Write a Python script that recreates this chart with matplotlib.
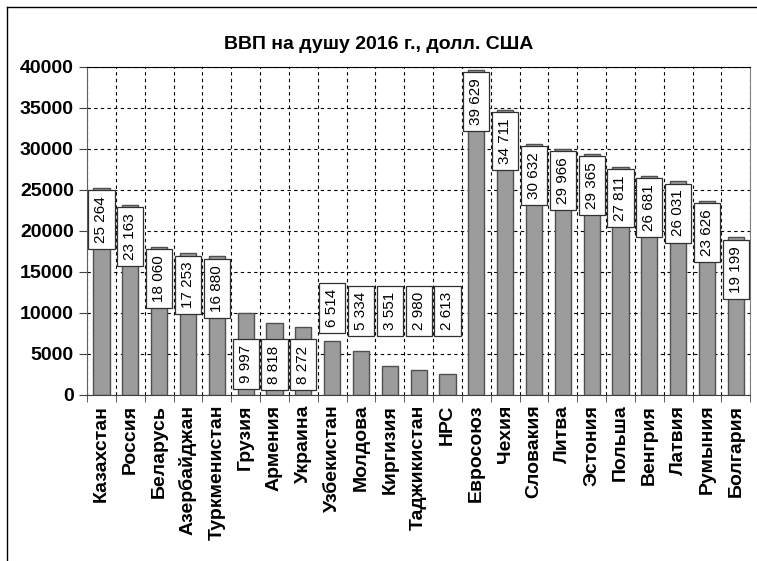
import matplotlib.pyplot as plt
from matplotlib.lines import Line2D
import numpy as np

countries = ["Казахстан", "Россия", "Беларусь", "Азербайджан", "Туркменистан",
             "Грузия", "Армения", "Украина", "Узбекистан", "Молдова", "Киргизия",
             "Таджикистан", "НРС", "Евросоюз", "Чехия", "Словакия", "Литва",
             "Эстония", "Польша", "Венгрия", "Латвия", "Румыния", "Болгария"]
gdp = [25264, 23163, 18060, 17253, 16880, 9997, 8818, 8272, 6514, 5334, 3551,
       2980, 2613, 39629, 34711, 30632, 29966, 29365, 27811, 26681, 26031,
       23626, 19199]

# where the small-value labels sit (label centre), the rest hang under the bar top
low_label_y = {"Грузия": 3800, "Армения": 3700, "Украина": 3700,
               "Узбекистан": 10600, "Молдова": 10200, "Киргизия": 10200,
               "Таджикистан": 10200, "НРС": 10200}

plt.rcParams['font.family'] = ['Liberation Sans', 'DejaVu Sans']

fig = plt.figure(figsize=(7.57, 5.61), dpi=100)
ax = fig.add_axes([0.115, 0.296, 0.876, 0.585])

x = np.arange(len(countries))
ax.bar(x, gdp, width=0.56, color="#9c9c9c", edgecolor="#505050", linewidth=1.0, zorder=2)

box = dict(boxstyle="square,pad=0.4", fc="white", ec="#303030", lw=0.9)
for i, (name, v) in enumerate(zip(countries, gdp)):
    txt = f"{v:,}".replace(",", " ")
    if name in low_label_y:
        ax.text(i, low_label_y[name], txt, rotation=90, ha="center", va="center",
                fontsize=11, bbox=box, zorder=3)
    else:
        ax.annotate(txt, (i, v), xytext=(0, -6), textcoords="offset points",
                    rotation=90, ha="center", va="top", fontsize=11, bbox=box, zorder=3)

ax.set_xlim(-0.5, len(countries) - 0.5)
ax.set_ylim(0, 40000)
ax.set_yticks(range(0, 40001, 5000))
ax.set_xticks(x)
ax.set_xticklabels(countries, rotation=90, fontsize=14, fontweight="bold")
ax.set_xticks(np.arange(-0.5, len(countries), 1), minor=True)
ax.tick_params(axis="x", which="major", length=0, pad=7)
ax.tick_params(axis="x", which="minor", length=5, direction="out", color="#404040")
ax.tick_params(axis="y", length=6, direction="out", color="#404040")
for lab in ax.get_yticklabels():
    lab.set_fontsize(14)
    lab.set_fontweight("bold")

ax.grid(True, axis="y", which="major", linestyle=(0, (3, 3)), color="black", lw=0.8, zorder=1)
ax.grid(True, axis="x", which="minor", linestyle=(0, (3, 3)), color="black", lw=0.8, zorder=1)
ax.grid(False, axis="x", which="major")

ax.spines["top"].set_color("black")
ax.spines["right"].set_color("#808080")
ax.spines["left"].set_color("#606060")
ax.spines["bottom"].set_color("#404040")

fig.text(0.5, 0.92, "ВВП на душу 2016 г., долл. США", ha="center", va="center",
         fontsize=14, fontweight="bold")

# frame of the original picture (left and top edges)
fig.add_artist(Line2D([0.009, 0.009], [0, 0.988], transform=fig.transFigure, color="black", lw=1))
fig.add_artist(Line2D([0.009, 1], [0.988, 0.988], transform=fig.transFigure, color="black", lw=1))

plt.savefig("out.png", dpi=100)
